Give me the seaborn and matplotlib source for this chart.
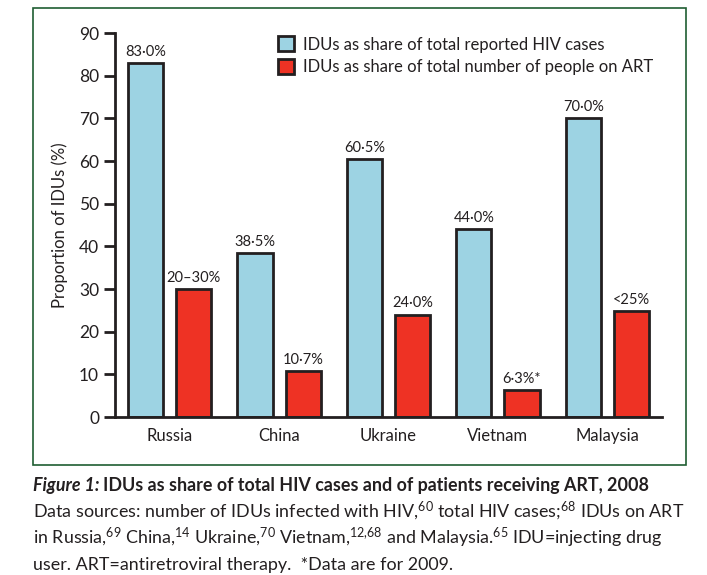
import matplotlib
matplotlib.use("Agg")
import matplotlib.pyplot as plt
from matplotlib import font_manager
from matplotlib.patches import Rectangle
import seaborn as sns
import pandas as pd

# data
countries = ["Russia", "China", "Ukraine", "Vietnam", "Malaysia"]
hiv_share = [83.0, 38.5, 60.5, 44.0, 70.0]
art_share = [30.0, 10.7, 24.0, 6.3, 24.8]
hiv_labels = ["83·0%", "38·5%", "60·5%", "44·0%", "70·0%"]
art_labels = ["20–30%", "10·7%", "24·0%", "6·3%*", "<25%"]
series_names = ["IDUs as share of total reported HIV cases",
                "IDUs as share of total number of people on ART"]

sns.set_style("white")
installed = {f.name for f in font_manager.fontManager.ttflist}
font = next((f for f in ["Liberation Sans Narrow", "Lato", "Open Sans", "DejaVu Sans"] if f in installed), "DejaVu Sans")
plt.rcParams["font.family"] = [font, "DejaVu Sans"]
plt.rcParams["mathtext.fontset"] = "custom"
plt.rcParams["mathtext.rm"] = font
plt.rcParams["mathtext.it"] = font + ":italic"
plt.rcParams["mathtext.bf"] = font + ":bold"

ink = "#231f20"
blue = "#9dd3e3"
red = "#ee3224"

df = pd.DataFrame({
    "country": countries * 2,
    "value": hiv_share + art_share,
    "series": [series_names[0]] * 5 + [series_names[1]] * 5,
})

fig = plt.figure(figsize=(7.07, 5.75), dpi=100)
ax = fig.add_axes([115 / 707, 1 - 417 / 575, 547 / 707, 384 / 575])

sns.barplot(data=df, x="country", y="value", hue="series", hue_order=series_names,
            palette=[blue, red], width=0.88, gap=0.27, edgecolor=ink, linewidth=2,
            saturation=1, ax=ax)

for cont, labs in zip(ax.containers, [hiv_labels, art_labels]):
    ax.bar_label(cont, labels=labs, padding=3, fontsize=10.5, color=ink)

ax.set_xlim(-0.5, 4.5)
ax.set_ylim(0, 90)
ax.set_yticks(range(0, 91, 10))
ax.set_xticks(range(5))
ax.set_xticklabels(countries, fontsize=12, color=ink)
ax.set_xticks([i - 0.5 for i in range(6)], minor=True)
ax.tick_params(axis="x", which="major", length=0, pad=8)
ax.tick_params(axis="x", which="minor", length=8, width=2, color=ink, direction="out")
ax.tick_params(axis="y", length=8, width=2, color=ink, direction="out", labelsize=12.5, labelcolor=ink, left=True)
for side in ["top", "right"]:
    ax.spines[side].set_visible(False)
for side in ["left", "bottom"]:
    ax.spines[side].set_linewidth(2)
    ax.spines[side].set_color(ink)
ax.set_xlabel("")
ax.set_ylabel("Proportion of IDUs (%)", fontsize=12, color=ink, labelpad=8)

handles, _ = ax.get_legend_handles_labels()
ax.legend(handles, series_names, loc="upper left", bbox_to_anchor=(0.27, 1.03),
          frameon=False, fontsize=12, handlelength=1.0, handleheight=1.0,
          handletextpad=0.5, labelspacing=0.4, labelcolor=ink)

# green frame round the chart
fig.add_artist(Rectangle((33 / 707, 1 - 465 / 575), 653 / 707, 457 / 575,
                         transform=fig.transFigure, fill=False,
                         edgecolor="#1f5e32", linewidth=1.2))

# caption
fig.canvas.draw()
r = fig.canvas.get_renderer()
t1 = fig.text(33 / 707, 1 - 486 / 575, "Figure 1:", fontsize=12.9, fontweight="bold",
              fontstyle="italic", color=ink, va="center")
ext = t1.get_window_extent(r)
fig.text(ext.x1 / fig.bbox.width + 0.005, 1 - 486 / 575,
         "IDUs as share of total HIV cases and of patients receiving ART, 2008",
         fontsize=12.9, fontweight="bold", color=ink, va="center")
lines = [
    r"Data sources: number of IDUs infected with HIV,$^{60}$ total HIV cases;$^{68}$ IDUs on ART",
    r"in Russia,$^{69}$ China,$^{14}$ Ukraine,$^{70}$ Vietnam,$^{12{,}68}$ and Malaysia.$^{65}$ IDU=injecting drug",
    "user. ART=antiretroviral therapy.  *Data are for 2009.",
]
for i, line in enumerate(lines):
    fig.text(33 / 707, 1 - (511 + 27 * i) / 575, line, fontsize=12.9, color=ink, va="center")

fig.savefig("out.png", dpi=100)
